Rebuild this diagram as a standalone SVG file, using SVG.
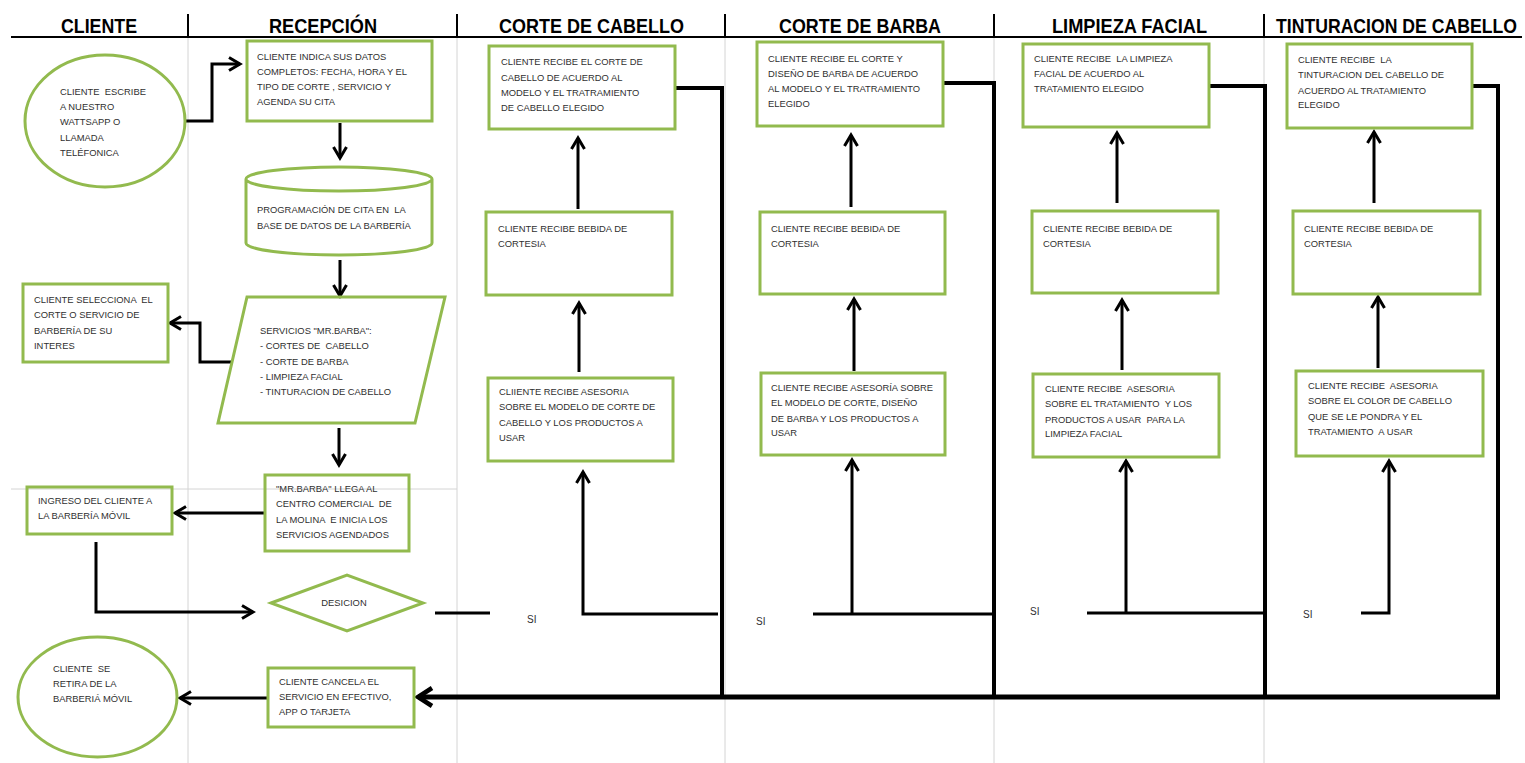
<svg xmlns="http://www.w3.org/2000/svg" width="1525" height="763" viewBox="0 0 1525 763">
<style>
.box{fill:none;stroke:#92BA4E;stroke-width:3}
.t{font-family:"Liberation Sans",Arial,sans-serif;font-size:9.4px;fill:#303030;white-space:pre}
.si{font-family:"Liberation Sans",Arial,sans-serif;font-size:10px;fill:#303030}
.h{font-family:"Liberation Sans",Arial,sans-serif;font-weight:bold;font-size:19.5px;fill:#000}
.c{fill:none;stroke:#000;stroke-width:3}
.r{fill:none;stroke:#000;stroke-width:4}
.lane{stroke:#d4d4d4;stroke-width:1}
.div{stroke:#000;stroke-width:2}
</style>
<defs>
<marker id="ah" viewBox="-14 -10 18 20" refX="0" refY="0" markerWidth="18" markerHeight="20" markerUnits="userSpaceOnUse" orient="auto" overflow="visible">
<path d="M-11,-6.5 L0,0 L-11,6.5" fill="none" stroke="#000" stroke-width="3"/>
</marker>
<marker id="ahb" viewBox="-18 -12 22 24" refX="0" refY="0" markerWidth="22" markerHeight="24" markerUnits="userSpaceOnUse" orient="auto" overflow="visible">
<path d="M-14,-9 L0,0 L-14,9" fill="none" stroke="#000" stroke-width="4.5"/>
</marker>
</defs>
<rect width="1525" height="763" fill="#fff"/>
<g id="lanes">
<line class="lane" x1="188" y1="37" x2="188" y2="763"/>
<line class="lane" x1="457" y1="37" x2="457" y2="763"/>
<line class="lane" x1="725" y1="37" x2="725" y2="763"/>
<line class="lane" x1="994" y1="37" x2="994" y2="763"/>
<line class="lane" x1="1264" y1="37" x2="1264" y2="763"/>
<line class="lane" x1="11" y1="489" x2="457" y2="489"/>
<line class="div" x1="11" y1="37" x2="1522" y2="37"/>
<line class="div" x1="188" y1="14" x2="188" y2="37"/>
<line class="div" x1="457" y1="14" x2="457" y2="37"/>
<line class="div" x1="725" y1="14" x2="725" y2="37"/>
<line class="div" x1="994" y1="14" x2="994" y2="37"/>
<line class="div" x1="1264" y1="14" x2="1264" y2="37"/>
<text class="h" x="61" y="33" textLength="76" lengthAdjust="spacingAndGlyphs">CLIENTE</text>
<text class="h" x="269" y="33" textLength="108" lengthAdjust="spacingAndGlyphs">RECEPCIÓN</text>
<text class="h" x="499" y="33" textLength="185" lengthAdjust="spacingAndGlyphs">CORTE DE CABELLO</text>
<text class="h" x="779" y="33" textLength="162" lengthAdjust="spacingAndGlyphs">CORTE DE BARBA</text>
<text class="h" x="1052" y="33" textLength="155" lengthAdjust="spacingAndGlyphs">LIMPIEZA FACIAL</text>
<text class="h" transform="translate(1276,33) scale(0.905,1)" x="0" y="0">TINTURACION DE CABELLO</text>
</g>
<g id="connectors">
<path class="c" d="M185,121 H212 V64 H240" marker-end="url(#ah)"/>
<path class="c" d="M340,123 V158" marker-end="url(#ah)"/>
<path class="c" d="M340,260 V296" marker-end="url(#ah)"/>
<path class="c" d="M232,362 H200 V323 H170" marker-end="url(#ah)"/>
<path class="c" d="M339,428 V465" marker-end="url(#ah)"/>
<path class="c" d="M265,513 H175" marker-end="url(#ah)"/>
<path class="c" d="M96,542 V612 H253" marker-end="url(#ah)"/>
<path class="c" d="M268,698 H180" marker-end="url(#ah)"/>
<path class="c" d="M435,613 H490"/>
<path class="r" d="M675,88 H722 V697"/>
<path class="r" d="M943,83 H994 V697"/>
<path class="r" d="M1209,86 H1265 V697"/>
<path class="r" d="M1472,86 H1498 V697"/>
<path fill="none" stroke="#000" stroke-width="5" d="M1500,697 H418" marker-end="url(#ahb)"/>
<path class="c" d="M578,209 V138" marker-end="url(#ah)"/>
<path class="c" d="M579,372 V303" marker-end="url(#ah)"/>
<path class="c" d="M718,614 H583 V472" marker-end="url(#ah)"/>
<path class="c" d="M851,207 V135" marker-end="url(#ah)"/>
<path class="c" d="M854,371 V299" marker-end="url(#ah)"/>
<path class="c" d="M813,614 H994"/>
<path class="c" d="M852,614 V460" marker-end="url(#ah)"/>
<path class="c" d="M1117,203 V133" marker-end="url(#ah)"/>
<path class="c" d="M1122,370 V300" marker-end="url(#ah)"/>
<path class="c" d="M1087,613 H1265"/>
<path class="c" d="M1126,613 V461" marker-end="url(#ah)"/>
<path class="c" d="M1374,203 V132" marker-end="url(#ah)"/>
<path class="c" d="M1378,368 V297" marker-end="url(#ah)"/>
<path class="c" d="M1361,613 H1389 V461" marker-end="url(#ah)"/>
<text class="si" x="527" y="623">SI</text>
<text class="si" x="756" y="625">SI</text>
<text class="si" x="1030" y="615">SI</text>
<text class="si" x="1303" y="618">SI</text>
</g>
<g id="n-cliente-escribe">
<ellipse class="box" cx="105" cy="121" rx="80" ry="66"/>
<text class="t" x="60" y="95">CLIENTE  ESCRIBE</text>
<text class="t" x="60" y="110">A NUESTRO</text>
<text class="t" x="60" y="125">WATTSAPP O</text>
<text class="t" x="60" y="141">LLAMADA</text>
<text class="t" x="60" y="156">TELÉFONICA</text>
</g>
<g id="n-indica-datos">
<rect class="box" x="247" y="41" width="185" height="80"/>
<text class="t" x="257" y="60">CLIENTE INDICA SUS DATOS</text>
<text class="t" x="257" y="75">COMPLETOS: FECHA, HORA Y EL</text>
<text class="t" x="257" y="90">TIPO DE CORTE , SERVICIO Y</text>
<text class="t" x="257" y="105">AGENDA SU CITA</text>
</g>
<g id="n-programacion">
<path class="box" d="M246,179 A93,12 0 0 1 432,179 A93,12 0 0 1 246,179 V243 A93,12 0 0 0 432,243 V179"/>
<text class="t" x="257" y="213">PROGRAMACIÓN DE CITA EN  LA</text>
<text class="t" x="257" y="229">BASE DE DATOS DE LA BARBERÍA</text>
</g>
<g id="n-servicios">
<polygon class="box" points="247,297 445,297 415,423 218,423"/>
<text class="t" x="260" y="334">SERVICIOS "MR.BARBA":</text>
<text class="t" x="260" y="349">- CORTES DE  CABELLO</text>
<text class="t" x="260" y="365">- CORTE DE BARBA</text>
<text class="t" x="260" y="380">- LIMPIEZA FACIAL</text>
<text class="t" x="260" y="395">- TINTURACION DE CABELLO</text>
</g>
<g id="n-selecciona">
<rect class="box" x="23" y="284" width="145" height="78"/>
<text class="t" x="34" y="303">CLIENTE SELECCIONA  EL</text>
<text class="t" x="34" y="318">CORTE O SERVICIO DE</text>
<text class="t" x="34" y="334">BARBERÍA DE SU</text>
<text class="t" x="34" y="349">INTERES</text>
</g>
<g id="n-llega">
<rect class="box" x="265" y="475" width="144" height="76"/>
<text class="t" x="276" y="492">"MR.BARBA" LLEGA AL</text>
<text class="t" x="276" y="507">CENTRO COMERCIAL  DE</text>
<text class="t" x="276" y="523">LA MOLINA  E INICIA LOS</text>
<text class="t" x="276" y="538">SERVICIOS AGENDADOS</text>
</g>
<g id="n-ingreso">
<rect class="box" x="27" y="487" width="145" height="47"/>
<text class="t" x="38" y="504">INGRESO DEL CLIENTE A</text>
<text class="t" x="38" y="519">LA BARBERÍA MÓVIL</text>
</g>
<g id="n-desicion">
<polygon class="box" points="271,603 347,575 423,603 347,631"/>
<text class="t" x="344" y="606" text-anchor="middle">DESICION</text>
</g>
<g id="n-retira">
<ellipse class="box" cx="97.5" cy="697" rx="79.5" ry="60"/>
<text class="t" x="53" y="672">CLIENTE  SE</text>
<text class="t" x="53" y="687">RETIRA DE LA</text>
<text class="t" x="53" y="702">BARBERIÁ MÓVIL</text>
</g>
<g id="n-cancela">
<rect class="box" x="268" y="668" width="146" height="59"/>
<text class="t" x="279" y="685">CLIENTE CANCELA EL</text>
<text class="t" x="279" y="700">SERVICIO EN EFECTIVO,</text>
<text class="t" x="279" y="715">APP O TARJETA</text>
</g>
<g id="n-cc1">
<rect class="box" x="489" y="46" width="186" height="83"/>
<text class="t" x="501" y="65">CLIENTE RECIBE EL CORTE DE</text>
<text class="t" x="501" y="81">CABELLO DE ACUERDO AL</text>
<text class="t" x="501" y="96">MODELO Y EL TRATRAMIENTO</text>
<text class="t" x="501" y="111">DE CABELLO ELEGIDO</text>
</g>
<g id="n-cc2">
<rect class="box" x="486" y="212" width="186" height="83"/>
<text class="t" x="498" y="232">CLIENTE RECIBE BEBIDA DE</text>
<text class="t" x="498" y="247">CORTESIA</text>
</g>
<g id="n-cc3">
<rect class="box" x="488" y="378" width="185" height="83"/>
<text class="t" x="499" y="395">CLIIENTE RECIBE ASESORIA</text>
<text class="t" x="499" y="410">SOBRE EL MODELO DE CORTE DE</text>
<text class="t" x="499" y="426">CABELLO Y LOS PRODUCTOS A</text>
<text class="t" x="499" y="441">USAR</text>
</g>
<g id="n-cb1">
<rect class="box" x="757" y="42" width="186" height="84"/>
<text class="t" x="768" y="62">CLIENTE RECIBE EL CORTE Y</text>
<text class="t" x="768" y="77">DISEÑO DE BARBA DE ACUERDO</text>
<text class="t" x="768" y="92">AL MODELO Y EL TRATRAMIENTO</text>
<text class="t" x="768" y="107">ELEGIDO</text>
</g>
<g id="n-cb2">
<rect class="box" x="760" y="212" width="185" height="82"/>
<text class="t" x="771" y="232">CLIENTE RECIBE BEBIDA DE</text>
<text class="t" x="771" y="247">CORTESIA</text>
</g>
<g id="n-cb3">
<rect class="box" x="761" y="373" width="184" height="82"/>
<text class="t" x="771" y="391">CLIENTE RECIBE ASESORÍA SOBRE</text>
<text class="t" x="771" y="406">EL MODELO DE CORTE, DISEÑO</text>
<text class="t" x="771" y="422">DE BARBA Y LOS PRODUCTOS A</text>
<text class="t" x="771" y="436">USAR</text>
</g>
<g id="n-lf1">
<rect class="box" x="1023" y="44" width="186" height="83"/>
<text class="t" x="1034" y="62">CLIENTE RECIBE  LA LIMPIEZA</text>
<text class="t" x="1034" y="77">FACIAL DE ACUERDO AL</text>
<text class="t" x="1034" y="92">TRATAMIENTO ELEGIDO</text>
</g>
<g id="n-lf2">
<rect class="box" x="1032" y="211" width="186" height="82"/>
<text class="t" x="1043" y="232">CLIENTE RECIBE BEBIDA DE</text>
<text class="t" x="1043" y="247">CORTESIA</text>
</g>
<g id="n-lf3">
<rect class="box" x="1033" y="374" width="186" height="83"/>
<text class="t" x="1045" y="392">CLIENTE RECIBE  ASESORIA</text>
<text class="t" x="1045" y="407">SOBRE EL TRATAMIENTO  Y LOS</text>
<text class="t" x="1045" y="423">PRODUCTOS A USAR  PARA LA</text>
<text class="t" x="1045" y="437">LIMPIEZA FACIAL</text>
</g>
<g id="n-tc1">
<rect class="box" x="1287" y="44" width="185" height="84"/>
<text class="t" x="1298" y="63">CLIENTE RECIBE  LA</text>
<text class="t" x="1298" y="78">TINTURACION DEL CABELLO DE</text>
<text class="t" x="1298" y="94">ACUERDO AL TRATAMIENTO</text>
<text class="t" x="1298" y="108">ELEGIDO</text>
</g>
<g id="n-tc2">
<rect class="box" x="1293" y="211" width="187" height="83"/>
<text class="t" x="1304" y="232">CLIENTE RECIBE BEBIDA DE</text>
<text class="t" x="1304" y="247">CORTESIA</text>
</g>
<g id="n-tc3">
<rect class="box" x="1296" y="371" width="187" height="85"/>
<text class="t" x="1308" y="389">CLIENTE RECIBE  ASESORIA</text>
<text class="t" x="1308" y="404">SOBRE EL COLOR DE CABELLO</text>
<text class="t" x="1308" y="420">QUE SE LE PONDRA Y EL</text>
<text class="t" x="1308" y="435">TRATAMIENTO  A USAR</text>
</g>
</svg>
